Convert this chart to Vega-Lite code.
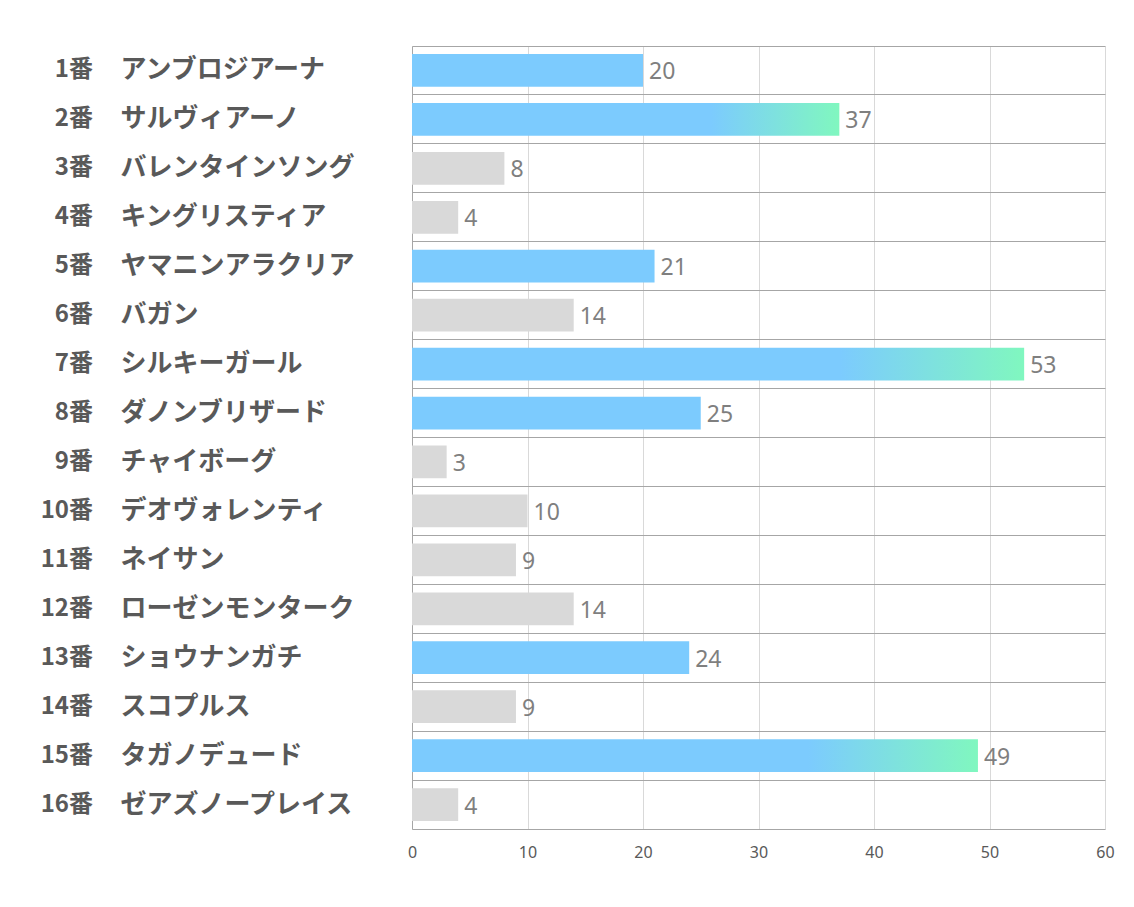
{
  "$schema": "https://vega.github.io/schema/vega-lite/v6.json",
  "width": 693,
  "height": 783,
  "autosize": {"type": "none"},
  "padding": {"left": 412, "top": 46, "right": 29, "bottom": 78},
  "background": "white",
  "config": {"view": {"stroke": null}, "font": "Noto Sans CJK JP"},
  "data": {
    "values": [
      {"no": "1番", "name": "アンブロジアーナ", "value": 20},
      {"no": "2番", "name": "サルヴィアーノ", "value": 37},
      {"no": "3番", "name": "バレンタインソング", "value": 8},
      {"no": "4番", "name": "キングリスティア", "value": 4},
      {"no": "5番", "name": "ヤマニンアラクリア", "value": 21},
      {"no": "6番", "name": "バガン", "value": 14},
      {"no": "7番", "name": "シルキーガール", "value": 53},
      {"no": "8番", "name": "ダノンブリザード", "value": 25},
      {"no": "9番", "name": "チャイボーグ", "value": 3},
      {"no": "10番", "name": "デオヴォレンティ", "value": 10},
      {"no": "11番", "name": "ネイサン", "value": 9},
      {"no": "12番", "name": "ローゼンモンターク", "value": 14},
      {"no": "13番", "name": "ショウナンガチ", "value": 24},
      {"no": "14番", "name": "スコプルス", "value": 9},
      {"no": "15番", "name": "タガノデュード", "value": 49},
      {"no": "16番", "name": "ゼアズノープレイス", "value": 4}
    ]
  },
  "encoding": {
    "y": {
      "field": "name",
      "type": "nominal",
      "sort": null,
      "scale": {"paddingInner": 0, "paddingOuter": 0},
      "axis": {
        "title": null,
        "ticks": false,
        "tickSize": 0,
        "domain": true,
        "domainColor": "#a6a6a6",
        "grid": true,
        "gridColor": "#a6a6a6",
        "bandPosition": 0,
        "labelAlign": "left",
        "labelBaseline": "middle",
        "labelPadding": 292,
        "labelFontSize": 26,
        "labelFontWeight": "bold",
        "labelColor": "#595959",
        "labelFont": "Noto Sans CJK JP",
        "labelLimit": 400
      }
    }
  },
  "layer": [
    {
      "mark": {"type": "bar", "height": {"band": 0.67}},
      "encoding": {
        "x": {
          "field": "value",
          "type": "quantitative",
          "scale": {"domain": [0, 60], "nice": false},
          "axis": {
            "title": null,
            "values": [0, 10, 20, 30, 40, 50, 60],
            "grid": true,
            "gridColor": "#d9d9d9",
            "domainColor": "#a6a6a6",
            "ticks": false,
            "tickSize": 0,
            "labelFlush": false,
            "labelFontSize": 16,
            "labelColor": "#595959",
            "labelPadding": 15,
            "labelFont": "Noto Sans"
          }
        },
        "color": {
          "condition": [
            {
              "test": "datum.value >= 30",
              "value": {
                "gradient": "linear",
                "x1": 0, "y1": 0, "x2": 1, "y2": 0,
                "stops": [
                  {"offset": 0, "color": "#7ccbfe"},
                  {"offset": 0.7, "color": "#7ccbfe"},
                  {"offset": 1, "color": "#80f7bf"}
                ]
              }
            },
            {"test": "datum.value >= 20", "value": "#7ccbfe"}
          ],
          "value": "#d9d9d9"
        }
      }
    },
    {
      "mark": {"type": "text", "align": "left", "baseline": "middle", "dx": 6, "dy": 2, "fontSize": 23, "color": "#7f7f7f", "font": "Noto Sans"},
      "encoding": {
        "x": {"field": "value", "type": "quantitative"},
        "text": {"field": "value"}
      }
    },
    {
      "mark": {"type": "text", "align": "right", "baseline": "middle", "dx": -319, "fontSize": 24, "fontWeight": "bold", "color": "#595959", "font": "Noto Sans CJK JP"},
      "encoding": {
        "x": {"datum": 0, "type": "quantitative"},
        "text": {"field": "no"}
      }
    }
  ]
}
